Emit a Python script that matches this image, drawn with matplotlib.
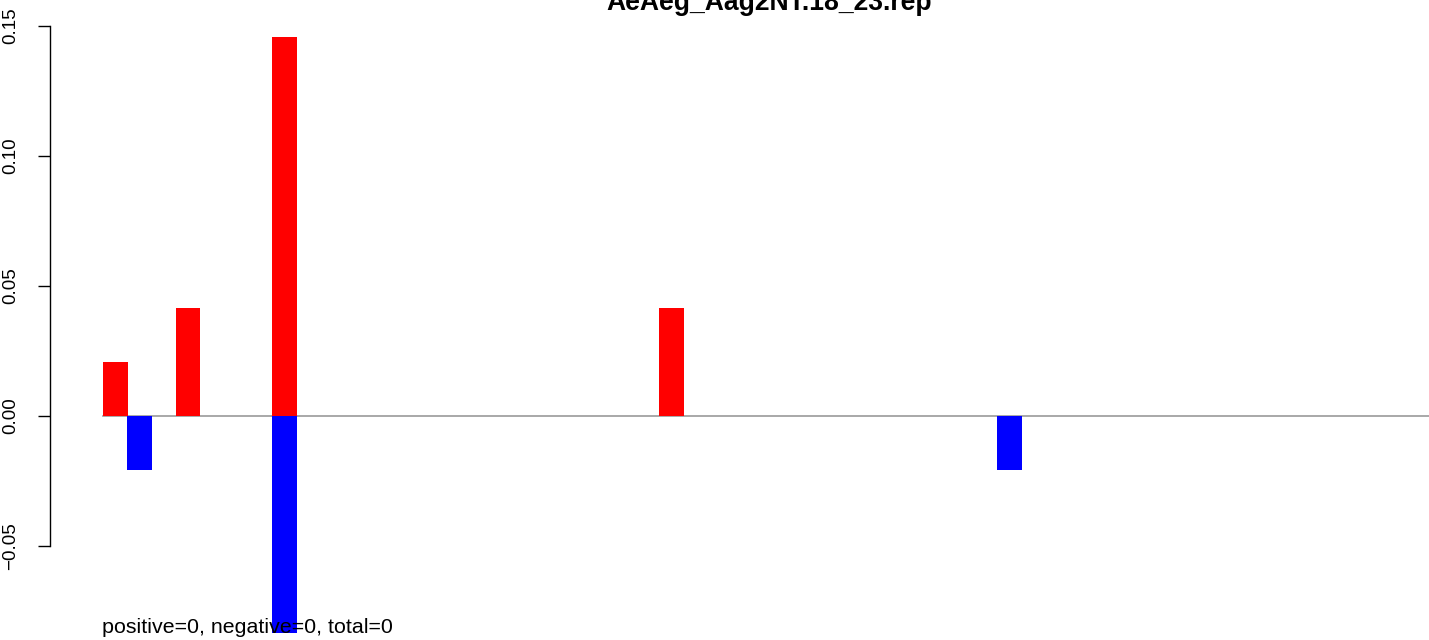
import matplotlib.pyplot as plt

plt.rcParams['font.family'] = ['Liberation Sans', 'DejaVu Sans']

# bar positions (index along x) and heights
pos_x = [0, 3, 7, 23]
pos_y = [0.0208, 0.0417, 0.1458, 0.0417]
neg_x = [1, 7, 37]
neg_y = [-0.0208, -0.0833, -0.0208]
n_positions = 60

title = "AeAeg_Aag2NT.18_23.rep"
note = "positive=0, negative=0, total=0"
yticks = [-0.05, 0.00, 0.05, 0.10, 0.15]

W, H = 1429, 640
fig = plt.figure(figsize=(W / 100, H / 100), dpi=100)
ax = fig.add_axes([50 / W, 0, 1 - 50 / W, 1])

# pixel -> data mapping: bar i spans [i, i+1], left edge of bar 0 at px 103, step 24.17 px
step = 24.17
ax.set_xlim((50 - 103) / step, (W - 103) / step)
ax.set_ylim(-224 / 2600, 416 / 2600)

ax.plot([0, n_positions], [0, 0], color='#999999', lw=1.2, zorder=1)
ax.bar(pos_x, pos_y, width=1.03, align='edge', color='#ff0000', zorder=2)
ax.bar(neg_x, neg_y, width=1.03, align='edge', color='#0000ff', zorder=2)

for s in ['top', 'right', 'bottom']:
    ax.spines[s].set_visible(False)
ax.spines['left'].set_bounds(-0.05, 0.15)
ax.spines['left'].set_linewidth(1.0)
ax.set_xticks([])
ax.set_yticks(yticks)
ax.set_yticklabels([('%.2f' % v).replace('-', '\u2212') for v in yticks],
                   rotation=90, va='center')
ax.tick_params(axis='y', length=9, width=1.0, pad=13, labelsize=13.5)

fig.text((607 + 932) / 2 / W, 1 - 10 / H, title, ha='center', va='baseline',
         fontsize=19.1, fontweight='bold')
fig.text(102 / W, 1 - 633 / H, note, ha='left', va='baseline', fontsize=15.4)

fig.savefig('out.png', dpi=100)
